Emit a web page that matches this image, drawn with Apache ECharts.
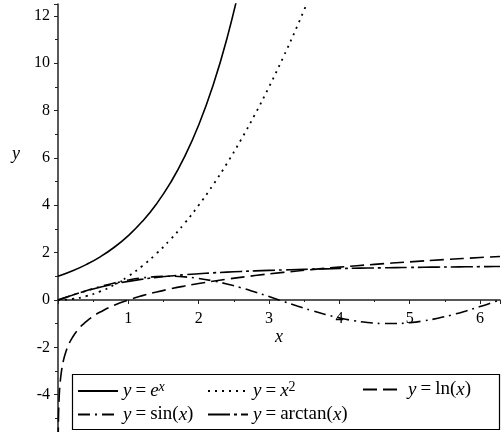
<!DOCTYPE html>
<html>
<head>
<meta charset="utf-8">
<script src="https://cdn.jsdelivr.net/npm/echarts@6/dist/echarts.min.js"></script>
<style>
  html, body { margin: 0; padding: 0; background: #fff; }
  #chart { width: 502px; height: 432px; }
</style>
</head>
<body>
<div id="chart"></div>
<script>
// sample points
const xs = [0, 0.2, 0.4, 0.6, 0.8, 1.0, 1.2, 1.4, 1.6, 1.8, 2.0, 2.2, 2.4, 2.6, 2.8, 3.0,
  3.2, 3.4, 3.6, 3.8, 4.0, 4.2, 4.4, 4.6, 4.8, 5.0, 5.2, 5.4, 5.6, 5.8, 6.0, 6.2, 6.2832]
const expVals = [1, 1.221, 1.492, 1.822, 2.226, 2.718, 3.320, 4.055, 4.953, 6.050, 7.389,
  9.025, 11.023, 13.464]
const sqVals = [0, 0.04, 0.16, 0.36, 0.64, 1, 1.44, 1.96, 2.56, 3.24, 4, 4.84, 5.76, 6.76,
  7.84, 9, 10.24, 11.56, 12.96]
const sinVals = [0, 0.199, 0.389, 0.565, 0.717, 0.841, 0.932, 0.985, 1.0, 0.974, 0.909,
  0.808, 0.675, 0.516, 0.335, 0.141, -0.058, -0.256, -0.443, -0.612, -0.757, -0.872,
  -0.952, -0.994, -0.996, -0.959, -0.884, -0.773, -0.631, -0.465, -0.279, -0.083, 0]
const atanVals = [0, 0.197, 0.381, 0.540, 0.675, 0.785, 0.876, 0.951, 1.012, 1.064, 1.107,
  1.144, 1.176, 1.204, 1.228, 1.249, 1.268, 1.285, 1.300, 1.313, 1.326, 1.337, 1.347,
  1.357, 1.365, 1.373, 1.381, 1.388, 1.394, 1.400, 1.406, 1.411, 1.413]
const lnXs = [0.0025, 0.004, 0.007, 0.01, 0.015, 0.02, 0.03, 0.05, 0.075, 0.1, 0.15, 0.2,
  0.3, 0.4, 0.5, 0.6, 0.8, 1.0, 1.2, 1.4, 1.6, 1.8, 2.0, 2.4, 2.8, 3.2, 3.6, 4.0, 4.5,
  5.0, 5.5, 6.0, 6.2832]
const lnVals = [-5.99, -5.52, -4.96, -4.61, -4.20, -3.91, -3.51, -3.00, -2.59, -2.30, -1.90,
  -1.61, -1.20, -0.92, -0.69, -0.51, -0.22, 0, 0.182, 0.336, 0.470, 0.588, 0.693, 0.875,
  1.030, 1.163, 1.281, 1.386, 1.504, 1.609, 1.705, 1.792, 1.838]

// legend text, rich-text markup
const labels = {
  exp: '{i|y}{e|=}{i|e}{si|x}',
  sq: '{i|y}{e|=}{i|x}{sr|2}',
  ln: '{i|y}{e|=}{r|ln(}{i|x}{r|)}',
  sin: '{i|y}{e|=}{r|sin(}{i|x}{r|)}',
  atan: '{i|y}{e|=}{r|arctan(}{i|x}{r|)}'
}

const serif = 'Liberation Serif'
const pairs = (a, b) => b.map((v, i) => [a[i], v])

const richText = {
  i: { fontFamily: serif, fontStyle: 'italic', fontSize: 19, color: '#000', lineHeight: 22 },
  r: { fontFamily: serif, fontSize: 19, color: '#000', lineHeight: 22 },
  e: { fontFamily: serif, fontSize: 19, color: '#000', lineHeight: 22, padding: [0, 4, 0, 4] },
  si: { fontFamily: serif, fontStyle: 'italic', fontSize: 14, color: '#000', verticalAlign: 'top', lineHeight: 22 },
  sr: { fontFamily: serif, fontSize: 14, color: '#000', verticalAlign: 'top', lineHeight: 22 }
}

function legendAt(name, left, top) {
  return {
    data: [name],
    left: left,
    top: top,
    padding: 0,
    itemWidth: 40,
    itemHeight: 14,
    selectedMode: false,
    itemStyle: { color: 'rgba(0,0,0,0)', borderWidth: 0, opacity: 0 },
    formatter: n => labels[n],
    textStyle: { fontFamily: serif, fontSize: 19, color: '#000', rich: richText }
  }
}

const chart = echarts.init(document.getElementById('chart'), null, { renderer: 'canvas' })

const line = (name, data, type, width) => ({
  name: name,
  type: 'line',
  data: data,
  symbol: 'none',
  smooth: true,
  clip: true,
  lineStyle: { color: '#000', width: width || 1.6, type: type },
  itemStyle: { color: '#000' }
})

chart.setOption({
  animation: false,
  grid: { left: 58, right: 2, top: 4, bottom: -10, containLabel: false, outerBoundsMode: 'none' },
  xAxis: {
    type: 'value',
    min: 0,
    max: 6.2832,
    interval: 1,
    // the grid runs below the canvas, so pull the axis up to y = 0
    offset: -142,
    axisLine: { onZero: false, lineStyle: { color: '#222', width: 1.5 } },
    axisTick: { show: true, length: 4, lineStyle: { color: '#222' } },
    minorTick: { show: true, splitNumber: 2, length: 2, lineStyle: { color: '#222' } },
    splitLine: { show: false },
    axisLabel: {
      margin: 11,
      showMinLabel: false,
      showMaxLabel: false,
      fontFamily: serif,
      fontSize: 16,
      color: '#000',
      formatter: v => (v > 0 && Number.isInteger(v) ? String(v) : '')
    }
  },
  yAxis: {
    type: 'value',
    min: -6,
    max: 12.5,
    interval: 2,
    axisLine: { show: true, onZero: false, lineStyle: { color: '#222', width: 1.5 } },
    axisTick: { show: true, length: 4, lineStyle: { color: '#222' } },
    minorTick: { show: true, splitNumber: 2, length: 3, lineStyle: { color: '#222' } },
    splitLine: { show: false },
    axisLabel: {
      margin: 8,
      showMaxLabel: false,
      fontFamily: serif,
      fontSize: 16,
      color: '#000',
      formatter: v => (v % 2 === 0 ? String(v) : '')
    }
  },
  legend: [
    legendAt('exp', 77, 380),
    legendAt('sq', 207, 380),
    legendAt('ln', 362, 380),
    legendAt('sin', 77, 405),
    legendAt('atan', 207, 405)
  ],
  graphic: [
    {
      type: 'rect',
      z: 3,
      shape: { x: 72.5, y: 374.5, width: 427, height: 55 },
      style: { fill: '#fff', stroke: '#000', lineWidth: 1.2 }
    },
    {
      type: 'text',
      left: 12,
      top: 145,
      style: { text: 'y', fontFamily: serif, fontStyle: 'italic', fontSize: 18, fill: '#000' }
    },
    {
      type: 'text',
      left: 275,
      top: 328,
      style: { text: 'x', fontFamily: serif, fontStyle: 'italic', fontSize: 18, fill: '#000' }
    }
  ],
  series: [
    line('exp', pairs(xs, expVals), 'solid'),
    line('sq', pairs(xs, sqVals), [2, 5], 1.8),
    line('ln', pairs(lnXs, lnVals), [14, 6]),
    line('sin', pairs(xs, sinVals), [12, 5, 2, 5]),
    line('atan', pairs(xs, atanVals), [22, 4, 3, 4])
  ]
})
</script>
</body>
</html>
